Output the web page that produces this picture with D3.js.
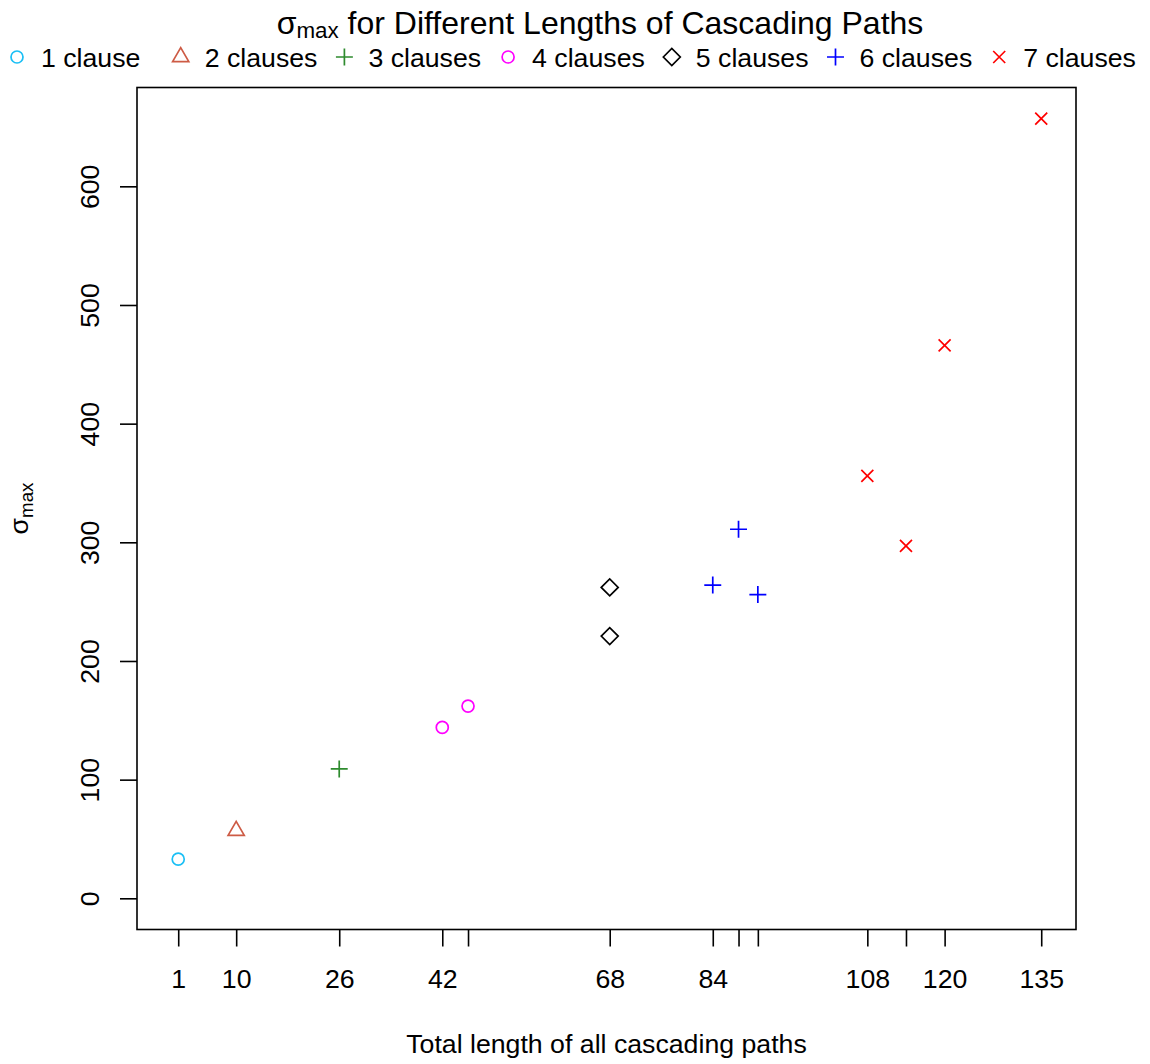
<!DOCTYPE html>
<html>
<head>
<meta charset="utf-8">
<script src="https://cdn.jsdelivr.net/npm/d3@7"></script>
<style>
  html, body { margin: 0; padding: 0; background: #fff; }
  svg text { font-family: "Liberation Sans", Arial, Helvetica, sans-serif; fill: #000; }
</style>
</head>
<body>
<svg id="chart" width="1150" height="1064"></svg>
<script>
// ---------------- data ----------------
const seriesNames  = ["1 clause", "2 clauses", "3 clauses", "4 clauses", "5 clauses", "6 clauses", "7 clauses"];
const seriesColors = ["#1ABFF5", "#CD5B45", "#2E8B2E", "#FF00FF", "#000000", "#0000FF", "#FF0000"];
const seriesShapes = ["circle", "triangle", "plus", "circle", "diamond", "plus", "cross"];
const xValues = [
  [1],
  [10],
  [26],
  [42, 46],
  [68, 68],
  [84, 88, 91],
  [108, 114, 120, 135]
];
const yValues = [
  [33],
  [57],
  [109],
  [144, 162],
  [221, 262],
  [264, 311, 256],
  [356, 297, 466, 657]
];
const xTickValues   = [1, 10, 26, 42, 46, 68, 84, 88, 91, 108, 114, 120, 135];
const xTickLabelled = [1, 10, 26, 42, 68, 84, 108, 120, 135];
const yTickValues   = [0, 100, 200, 300, 400, 500, 600];
const xLimits = [0, 135];
const yLimits = [0, 657];

// ---------------- layout ----------------
const W = 1150, H = 1064;
const box = { left: 137, right: 1076, top: 87.5, bottom: 929.5 };
const baseFont = 26.7, titleFont = 32;
const symSize = 6;

const svg = d3.select("#chart");

function expand(lim) { const d = (lim[1] - lim[0]) * 0.04; return [lim[0] - d, lim[1] + d]; }
const x = d3.scaleLinear().domain(expand(xLimits)).range([box.left, box.right]);
const y = d3.scaleLinear().domain(expand(yLimits)).range([box.bottom, box.top]);

function symbolPath(shape, s) {
  const p = d3.path();
  if (shape === "circle") {
    p.moveTo(s, 0); p.arc(0, 0, s, 0, 2 * Math.PI); p.closePath();
  } else if (shape === "triangle") {
    p.moveTo(0, -1.555 * s); p.lineTo(1.347 * s, 0.778 * s); p.lineTo(-1.347 * s, 0.778 * s); p.closePath();
  } else if (shape === "plus") {
    const h = 1.414 * s;
    p.moveTo(-h, 0); p.lineTo(h, 0); p.moveTo(0, -h); p.lineTo(0, h);
  } else if (shape === "diamond") {
    const h = 1.414 * s;
    p.moveTo(-h, 0); p.lineTo(0, -h); p.lineTo(h, 0); p.lineTo(0, h); p.closePath();
  } else if (shape === "cross") {
    p.moveTo(-s, -s); p.lineTo(s, s); p.moveTo(-s, s); p.lineTo(s, -s);
  }
  return p.toString();
}

// ---------------- axes ----------------
const xAxis = d3.axisBottom(x)
  .tickValues(xTickValues)
  .tickSize(17)
  .tickSizeOuter(0)
  .tickPadding(12)
  .tickFormat(d => xTickLabelled.includes(d) ? String(d) : "");
const gx = svg.append("g").attr("transform", `translate(0,${box.bottom})`).call(xAxis);
gx.select(".domain").remove();
gx.selectAll(".tick line").attr("stroke", "#000").attr("stroke-width", 1.6);
gx.selectAll(".tick text").attr("font-size", baseFont).attr("dy", null).attr("y", 58).attr("fill", "#000")
  .style("font-family", '"Liberation Sans", Arial, sans-serif');

const yAxis = d3.axisLeft(y).tickValues(yTickValues).tickSize(17).tickSizeOuter(0).tickFormat(d3.format("d"));
const gy = svg.append("g").attr("transform", `translate(${box.left},0)`).call(yAxis);
gy.select(".domain").remove();
gy.selectAll(".tick line").attr("stroke", "#000").attr("stroke-width", 1.6);
gy.selectAll(".tick text")
  .attr("x", null).attr("dy", null)
  .attr("text-anchor", "middle")
  .attr("transform", "translate(-38,0) rotate(-90)")
  .attr("font-size", baseFont).attr("fill", "#000")
  .style("font-family", '"Liberation Sans", Arial, sans-serif');

// ---------------- box ----------------
svg.append("rect")
  .attr("x", box.left).attr("y", box.top)
  .attr("width", box.right - box.left).attr("height", box.bottom - box.top)
  .attr("fill", "none").attr("stroke", "#000").attr("stroke-width", 1.6);

// ---------------- points ----------------
seriesNames.forEach((name, i) => {
  const pts = xValues[i].map((xv, j) => ({ x: xv, y: yValues[i][j] }));
  svg.append("g").selectAll("path").data(pts).join("path")
    .attr("transform", d => `translate(${x(d.x)},${y(d.y)})`)
    .attr("d", symbolPath(seriesShapes[i], symSize))
    .attr("fill", "none")
    .attr("stroke", seriesColors[i])
    .attr("stroke-width", 1.7);
});

// ---------------- titles ----------------
const title = svg.append("text")
  .attr("x", 600).attr("y", 34)
  .attr("text-anchor", "middle").attr("font-size", titleFont);
title.append("tspan").text("σ");
title.append("tspan").attr("font-size", titleFont * 0.7).attr("dy", 4).text("max");
title.append("tspan").attr("dy", -4).text(" for Different Lengths of Cascading Paths");

svg.append("text")
  .attr("x", (box.left + box.right) / 2).attr("y", 1053)
  .attr("text-anchor", "middle").attr("font-size", baseFont)
  .text("Total length of all cascading paths");

const ylab = svg.append("text")
  .attr("transform", `translate(28,${(box.top + box.bottom) / 2}) rotate(-90)`)
  .attr("text-anchor", "middle").attr("font-size", baseFont);
ylab.append("tspan").text("σ");
ylab.append("tspan").attr("font-size", baseFont * 0.7).attr("dy", 5).text("max");

// ---------------- legend ----------------
const legendStart = 17, legendPitch = 163.7, legendY = 57, legendTextGap = 24;
const lg = svg.append("g");
seriesNames.forEach((name, i) => {
  const cx = legendStart + i * legendPitch;
  lg.append("path")
    .attr("transform", `translate(${cx},${legendY})`)
    .attr("d", symbolPath(seriesShapes[i], symSize))
    .attr("fill", "none").attr("stroke", seriesColors[i]).attr("stroke-width", 1.7);
  lg.append("text")
    .attr("x", cx + legendTextGap).attr("y", legendY + 9.5)
    .attr("font-size", baseFont).text(name);
});
</script>
</body>
</html>
